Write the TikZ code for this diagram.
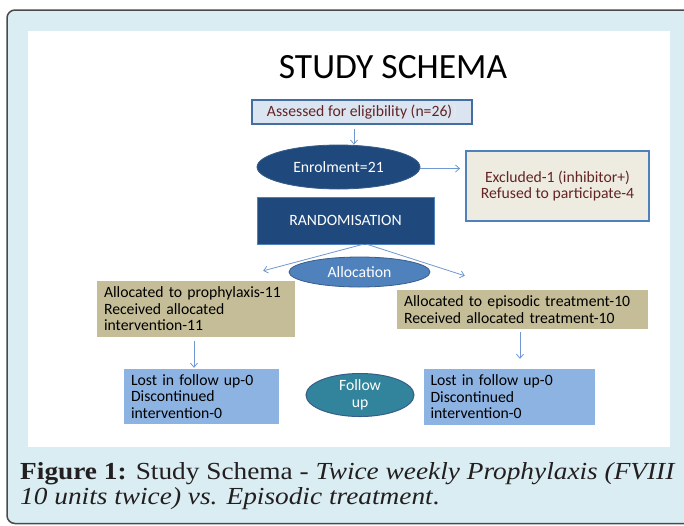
\documentclass[tikz,border=0pt]{standalone}
\usepackage{fontspec}
\setmainfont{Carlito}
\newfontfamily\capfont{Liberation Serif}
\usetikzlibrary{shapes.geometric,arrows.meta,calc}
\definecolor{framebg}{HTML}{DAEDF2}
\definecolor{framegray}{HTML}{4A4A4A}
\definecolor{assessbg}{HTML}{DBE5F1}
\definecolor{lineblue}{HTML}{4F81BD}
\definecolor{darkred}{HTML}{632423}
\definecolor{navy}{HTML}{1F497D}
\definecolor{navyedge}{HTML}{385D8A}
\definecolor{exclbg}{HTML}{EEECE1}
\definecolor{tan}{HTML}{C4BD97}
\definecolor{lostbg}{HTML}{8DB3E2}
\definecolor{teal}{HTML}{31849B}
\definecolor{arrowblue}{HTML}{6F98D0}
\definecolor{captext}{HTML}{231F20}
\tikzset{
  boxfont/.style={font=\fontsize{15.7}{16.5}\selectfont},
  assessbox/.style={rectangle, fill=assessbg, draw=lineblue!85!black, line width=1.2pt, text=darkred, boxfont, inner sep=0pt},
  darkoval/.style={ellipse, fill=navy, draw=navyedge, line width=0.8pt, text=white, boxfont, inner sep=0pt},
  exclbox/.style={rectangle, fill=exclbg, draw=lineblue, line width=1.8pt, text=darkred, boxfont, align=center, inner sep=0pt},
  randbox/.style={rectangle, fill=navy, draw=lineblue, line width=0.6pt, text=white, boxfont, inner sep=0pt},
  allocoval/.style={ellipse, fill=lineblue, draw=navyedge, line width=0.8pt, text=white, boxfont, inner sep=0pt},
  tanbox/.style={rectangle, fill=tan, text=black, boxfont, align=left, inner xsep=7pt, inner ysep=0pt},
  lostbox/.style={rectangle, fill=lostbg, text=black, boxfont, align=left, inner xsep=7pt, inner ysep=0pt},
  followoval/.style={ellipse, fill=teal, draw=navyedge, line width=1pt, text=white, align=center, inner sep=0pt},
  arr/.style={draw=arrowblue, line width=0.8pt, -{Straight Barb[length=4pt,width=7pt]}},
  capstyle/.style={anchor=base west, font=\capfont\fontsize{24.5}{27}\selectfont, text=captext, inner sep=0pt, xscale=1.115}
}
\begin{document}
\begin{tikzpicture}[x=1pt,y=-1pt]
\useasboundingbox (0,0) rectangle (684,525);
\clip (0,0) rectangle (684,525);
% frame and panel
\draw[fill=framebg, draw=framegray, line width=1.5pt, rounded corners=8pt] (7,10) rectangle (720,523.5);
\fill[white] (28,31) rectangle (670,447);
% title
\node[anchor=base, font=\fontsize{35.5}{38}\selectfont, inner sep=0pt] (title) at (393,78) {STUDY SCHEMA};
% nodes
\node[assessbox, minimum width=220pt, minimum height=24pt] (assessed) at (362,112) {Assessed for eligibility (n=26)\textcolor{white!85!lineblue}{)}};
\node[darkoval, minimum width=163pt, minimum height=44pt] (enrol) at (338.5,167) {Enrolment=21};
\node[exclbox, minimum width=183pt, minimum height=70pt] (excl) at (557.5,186) {Excluded-1 (inhibitor+)\\Refused to participate-4};
\node[randbox, minimum width=177pt, minimum height=47pt] (rand) at (345.5,220.5) {RANDOMISATION};
\node[tanbox, minimum width=198pt, minimum height=56pt, text width=184pt] (ltan) at (196,309) {Allocated to prophylaxis-11\\Received allocated\\intervention-11};
\node[tanbox, minimum width=251pt, minimum height=39pt, text width=237pt] (rtan) at (522.5,309.5) {Allocated to episodic treatment-10\\Received allocated treatment-10};
\node[lostbox, minimum width=155pt, minimum height=55pt, text width=141pt] (llost) at (201.5,396.5) {Lost in follow up-0\\Discontinued\\intervention-0};
\node[lostbox, minimum width=171pt, minimum height=56pt, text width=157pt] (rlost) at (509,397) {Lost in follow up-0\\Discontinued\\intervention-0};
% arrows
\draw[arr] ([xshift=-8pt,yshift=-4pt]assessed.south) -- ([xshift=15.5pt]enrol.north);
\draw[arr] ([yshift=-1.5pt]enrol.east) -- ([xshift=-5pt,yshift=-1.5pt]enrol.east -| excl.west);
\draw[arr] ([xshift=17.5pt]rand.south) -- ([xshift=-32pt,yshift=10pt]ltan.north east);
\draw[arr] ([xshift=21.5pt]rand.south) -- ([xshift=68pt,yshift=14pt]rtan.north west);
\draw[arr] ([xshift=-2pt,yshift=-4pt]ltan.south) -- ([xshift=-7.5pt,yshift=1pt]llost.north);
\draw[arr] ([xshift=-2.5pt,yshift=-3pt]rtan.south) -- ([xshift=11pt,yshift=10pt]rlost.north);
% ovals drawn over arrows
\node[allocoval, minimum width=141pt, minimum height=30pt] (alloc) at (359.5,272) {Allocation};
\node[followoval, minimum width=108pt, minimum height=35pt, font=\fontsize{15.7}{17}\selectfont] (follow) at (360,395) {Follow\\up};
% caption
\node[capstyle] (cap1) at (20,479) {\textbf{Figure 1:} Study Schema - \textit{Twice weekly Prophylaxis (FVIII}};
\node[capstyle] (cap2) at (20,504) {\textit{10 units twice) vs. Episodic treatment}.};
\end{tikzpicture}
\end{document}
